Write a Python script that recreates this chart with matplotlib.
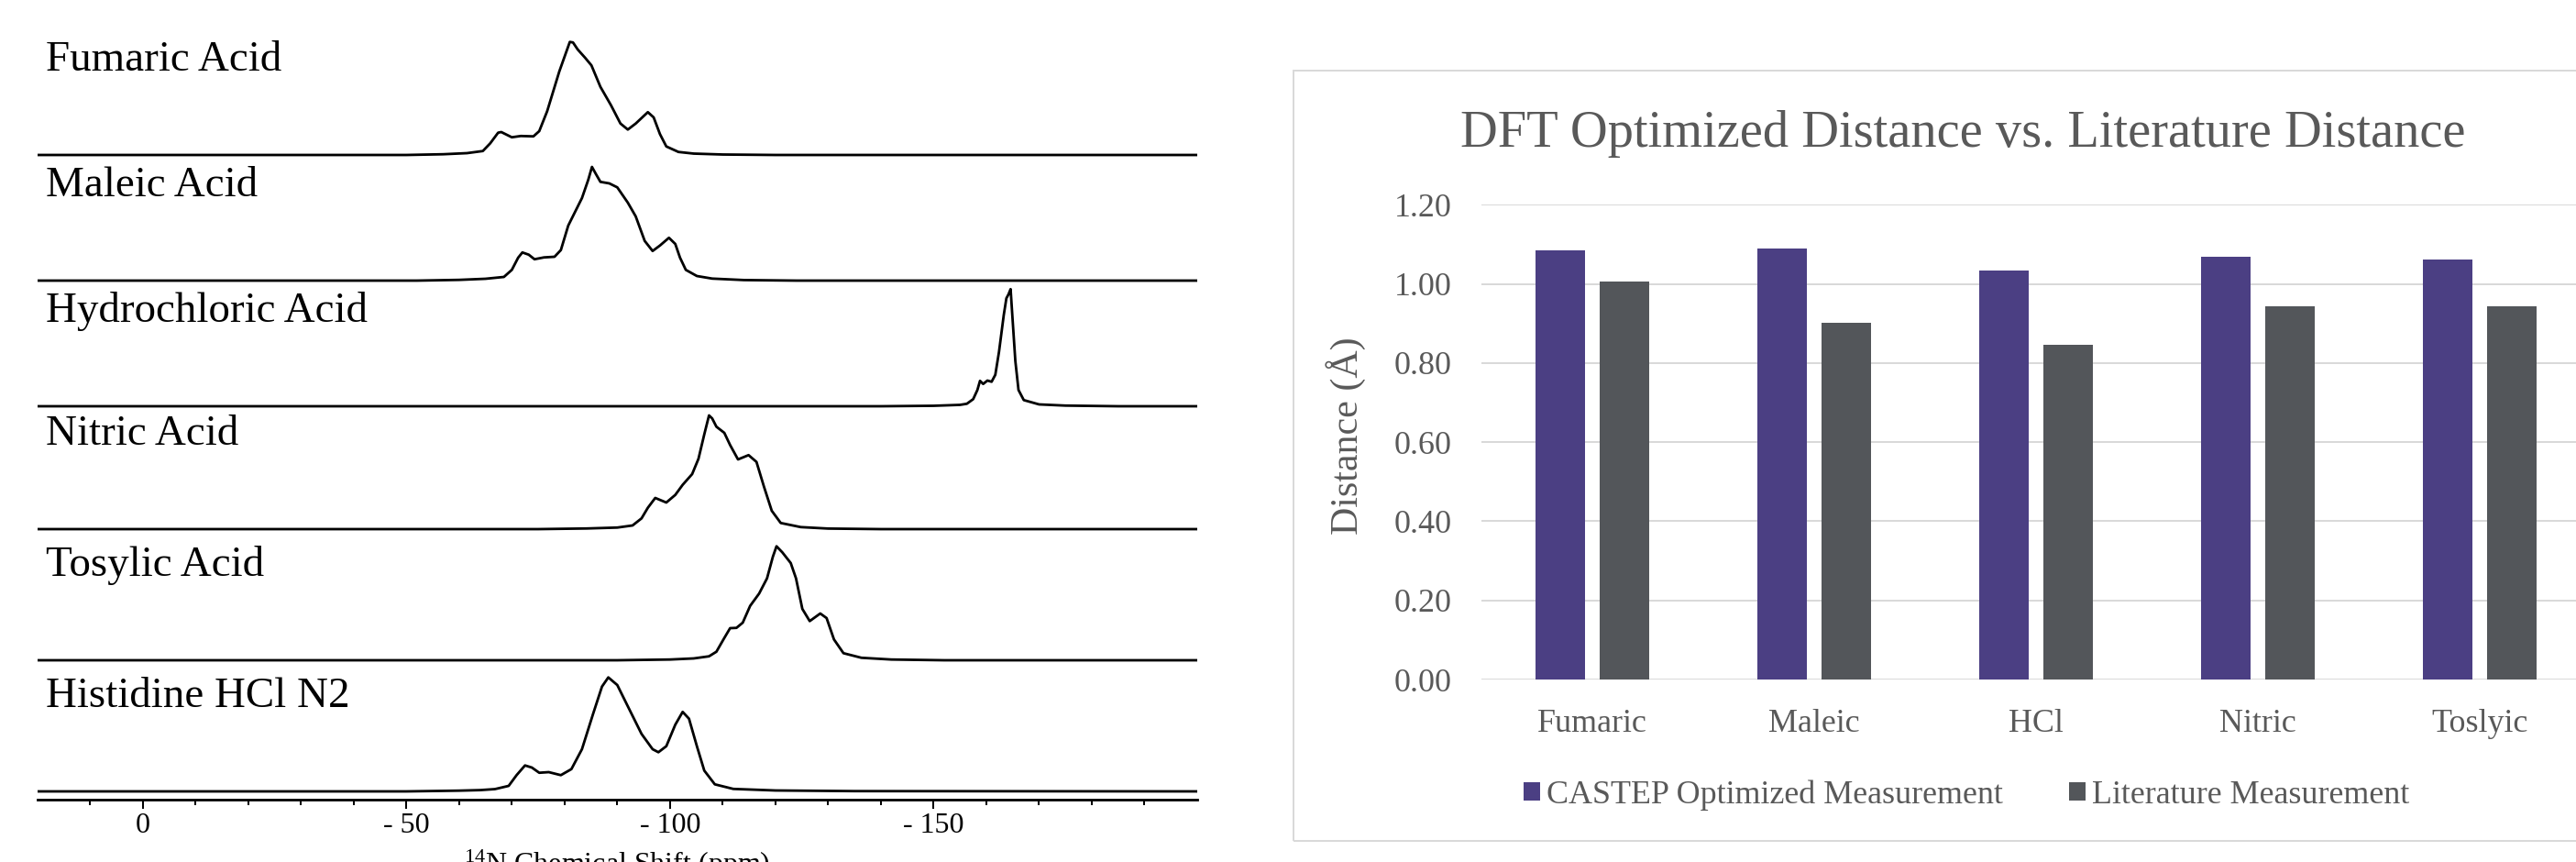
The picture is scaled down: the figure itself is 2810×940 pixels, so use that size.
import matplotlib
matplotlib.use("Agg")
import matplotlib.pyplot as plt
import matplotlib.transforms as mtransforms
from matplotlib.patches import Rectangle
from matplotlib.ticker import FixedLocator
import numpy as np

plt.rcParams['font.family'] = ['Liberation Serif', 'DejaVu Serif']
plt.rcParams['mathtext.fontset'] = 'custom'
plt.rcParams['mathtext.rm'] = 'Liberation Serif'
plt.rcParams['mathtext.it'] = 'Liberation Serif:italic'
plt.rcParams['mathtext.bf'] = 'Liberation Serif:bold'

W, H = 2810, 940

# espectros de 14N (ppm, intensidade em u.a.)
nomes = ["Fumaric Acid", "Maleic Acid", "Hydrochloric Acid",
         "Nitric Acid", "Tosylic Acid", "Histidine HCl N2"]

fumaric_ppm = [20, -50.0, -57.0, -61.5, -64.5, -65.9, -67.4, -68.0, -70.0, -71.7, -74.1, -75.2,
               -76.7, -79.0, -81.0, -81.6, -82.5, -83.9, -85.1, -86.8, -88.8, -90.6, -92.0,
               -93.5, -95.8, -96.9, -98.1, -99.3, -101.6, -104.5, -110.0, -120.0, -200]
fumaric_int = [0, 0, 0.8, 2.0, 4.3, 12.7, 24.3, 25, 19.3, 20.7, 20.3, 26,
               47.7, 91, 123.3, 122.7, 115, 106, 97.7, 74.3, 54.3, 34.3, 27.7,
               34.3, 46.7, 41, 22.7, 9.3, 3.3, 1.5, 0.5, 0, 0]

maleic_ppm = [20, -52.0, -60.0, -65.0, -68.5, -70.0, -71.2, -72.0, -73.2, -74.3, -76.1, -78.1,
              -79.3, -80.7, -83.3, -84.5, -85.2, -85.9, -86.8, -88.5, -90.0, -92.0, -93.5,
              -95.2, -96.7, -98.1, -99.8, -101.0, -101.9, -103.0, -105.1, -108.0, -114.0,
              -124.0, -200]
maleic_int = [0, 0, 0.8, 2.0, 4, 11.7, 25, 30.7, 28.3, 23.3, 25.3, 26,
              33.3, 60, 90, 110, 124, 116.7, 107.7, 106, 101.7, 85, 70,
              43.3, 32.3, 38.3, 46.7, 40, 25, 11.7, 5, 2.2, 0.6, 0, 0]

hcl_ppm = [20, -140.0, -150.0, -155.0, -156.3, -157.5, -158.3, -158.8, -159.4, -160.2,
           -161.0, -161.7, -162.4, -163.3, -163.8, -164.2, -164.6, -165.0, -165.5, -166.1,
           -167.1, -170.0, -175.0, -185.0, -200]
hcl_int = [0, 0, 0.5, 1.5, 2.7, 7.7, 17.7, 27.7, 24.3, 28,
           26.7, 34.3, 59.3, 99.3, 117.7, 122, 127.7, 92.7, 49.3, 17.7,
           6.7, 2.0, 0.7, 0, 0]

nitric_ppm = [20, -75.0, -84.2, -90.0, -92.9, -94.6, -95.8, -97.2, -99.3, -101.0, -102.4,
              -104.2, -105.4, -106.5, -107.4, -108.0, -108.8, -110.3, -111.4, -112.9,
              -114.9, -116.4, -117.8, -119.3, -121.0, -124.8, -130.0, -140.0, -200]
nitric_int = [0, 0, 0.7, 1.7, 4, 11.7, 23.3, 34, 29, 37.3, 48.3,
              60, 76.7, 103.3, 124, 120.7, 111.7, 105, 91.7, 76,
              80.7, 73.3, 46.7, 20, 6.7, 2.2, 0.6, 0, 0]

tosylic_ppm = [20, -90.0, -100.0, -104.5, -107.4, -108.8, -110.3, -111.4, -112.6, -113.8,
               -115.2, -116.9, -118.4, -119.5, -120.2, -121.3, -122.9, -123.9, -125.1,
               -126.5, -128.5, -129.7, -131.1, -132.9, -136.3, -142.0, -152.0, -200]
tosylic_int = [0, 0, 0.8, 2.0, 4.3, 9.3, 24.3, 35, 35.3, 41,
               59.3, 72.7, 89.3, 112.7, 124.3, 117.7, 106, 89.3, 56,
               42.7, 51, 46, 22.7, 7.7, 2.7, 0.8, 0, 0]

histidine_ppm = [20, -50.0, -59.9, -64.0, -66.8, -69.4, -70.9, -72.5, -73.8, -75.2, -77.0,
                 -79.3, -81.3, -83.3, -85.4, -87.1, -88.3, -90.0, -92.3, -94.6, -96.7,
                 -97.8, -99.3, -101.0, -102.4, -103.6, -105.1, -106.5, -108.5, -112.0,
                 -120.0, -135.0, -200]
histidine_int = [0, 0, 0.8, 1.4, 2.5, 6, 17.7, 28.3, 26, 20.3, 21,
                 17.7, 24.3, 46, 84.3, 114.3, 124.3, 116, 89.3, 62.7, 46,
                 42.7, 49.3, 72.7, 86.7, 79.3, 49.3, 22.7, 7.7, 2.7,
                 1.0, 0.3, 0]

espectros = [(fumaric_ppm, fumaric_int), (maleic_ppm, maleic_int), (hcl_ppm, hcl_int),
             (nitric_ppm, nitric_int), (tosylic_ppm, tosylic_int),
             (histidine_ppm, histidine_int)]

# distancias (Angstrom)
categorias = ["Fumaric", "Maleic", "HCl", "Nitric", "Toslyic"]
castep = [1.084, 1.090, 1.034, 1.069, 1.062]
literatura = [1.005, 0.901, 0.845, 0.943, 0.943]
ticks_y = [0.0, 0.2, 0.4, 0.6, 0.8, 1.0, 1.2]

# layout (pixels)
deslocamentos = [703, 566, 429, 295, 152, 9]
cinza_txt = '#595959'
roxo = '#4B3F83'
cinza = '#53565A'


def px(v):
    return v * 0.72


fig = plt.figure(figsize=(W / 100, H / 100), dpi=100)

# ---------- painel esquerdo: espectros ----------
ax1 = fig.add_axes([40.7 / W, 68 / H, 1265.3 / W, 872 / H])
for (ppm, inten), off in zip(espectros, deslocamentos):
    ax1.plot(ppm, np.array(inten) + off, color='black', lw=px(2.8),
             solid_joinstyle='round')
trans = mtransforms.blended_transform_factory(ax1.transAxes, ax1.transData)
for nome, off in zip(nomes, deslocamentos):
    ax1.text(0.0074, off + 92, nome, transform=trans, fontsize=px(47),
             va='baseline', ha='left')
ax1.set_xlim(20, -200)
ax1.set_ylim(0, 872)
for s in ['top', 'left', 'right']:
    ax1.spines[s].set_visible(False)
ax1.spines['bottom'].set_linewidth(px(2.8))
ax1.set_yticks([])
ax1.xaxis.set_major_locator(FixedLocator([0, -50, -100, -150]))
ax1.xaxis.set_minor_locator(FixedLocator(list(range(10, -200, -10))))
ax1.set_xticklabels(["0", "- 50", "- 100", "- 150"], fontsize=px(32))
ax1.tick_params(axis='x', which='major', length=px(10), width=px(2), pad=px(4))
ax1.tick_params(axis='x', which='minor', length=px(6), width=px(2))
ax1.set_xlabel(r"$\mathrm{^{14}}$N Chemical Shift (ppm)", fontsize=px(32), labelpad=px(10))

# ---------- painel direito: barras ----------
fig.add_artist(Rectangle((1411 / W, 23 / H), 1500 / W, 840 / H, transform=fig.transFigure,
                         facecolor='none', edgecolor='#d9d9d9', lw=px(2)))

ax2 = fig.add_axes([1616 / W, 199 / H, 1210 / W, 517.7 / H])
x = np.arange(len(categorias))
larg = 0.223
b1 = ax2.bar(x - 0.145, castep, larg, color=roxo, label='CASTEP Optimized Measurement', zorder=3)
b2 = ax2.bar(x + 0.145, literatura, larg, color=cinza, label='Literature Measurement', zorder=3)
ax2.set_xlim(-0.5, 4.5)
ax2.set_ylim(0, 1.2)
ax2.set_yticks(ticks_y)
ax2.set_yticklabels([f"{v:.2f}" for v in ticks_y], fontsize=px(36), color=cinza_txt)
ax2.set_xticks(x)
ax2.set_xticklabels(categorias, fontsize=px(36), color=cinza_txt)
ax2.tick_params(axis='y', length=0, pad=px(32))
ax2.tick_params(axis='x', length=0, pad=px(32))
ax2.grid(axis='y', color='#d9d9d9', lw=px(2), zorder=0)
for s in ax2.spines.values():
    s.set_visible(False)
ax2.set_ylabel("Distance (Å)", fontsize=px(42), color=cinza_txt)
ax2.yaxis.set_label_coords(-0.104, 0.514)

fig.text(2141 / W, 1 - 160 / H, "DFT Optimized Distance vs. Literature Distance",
         ha='center', va='baseline', fontsize=px(56.5), color=cinza_txt)

fig.legend(handles=[b1, b2], loc='center', bbox_to_anchor=(2145 / W, 1 - 867 / H),
           bbox_transform=fig.transFigure, ncol=2, frameon=False, fontsize=px(36),
           labelcolor=cinza_txt, handlelength=0.5, handleheight=0.5,
           handletextpad=0.2, columnspacing=2.0)

fig.savefig("out.png", dpi=100)
